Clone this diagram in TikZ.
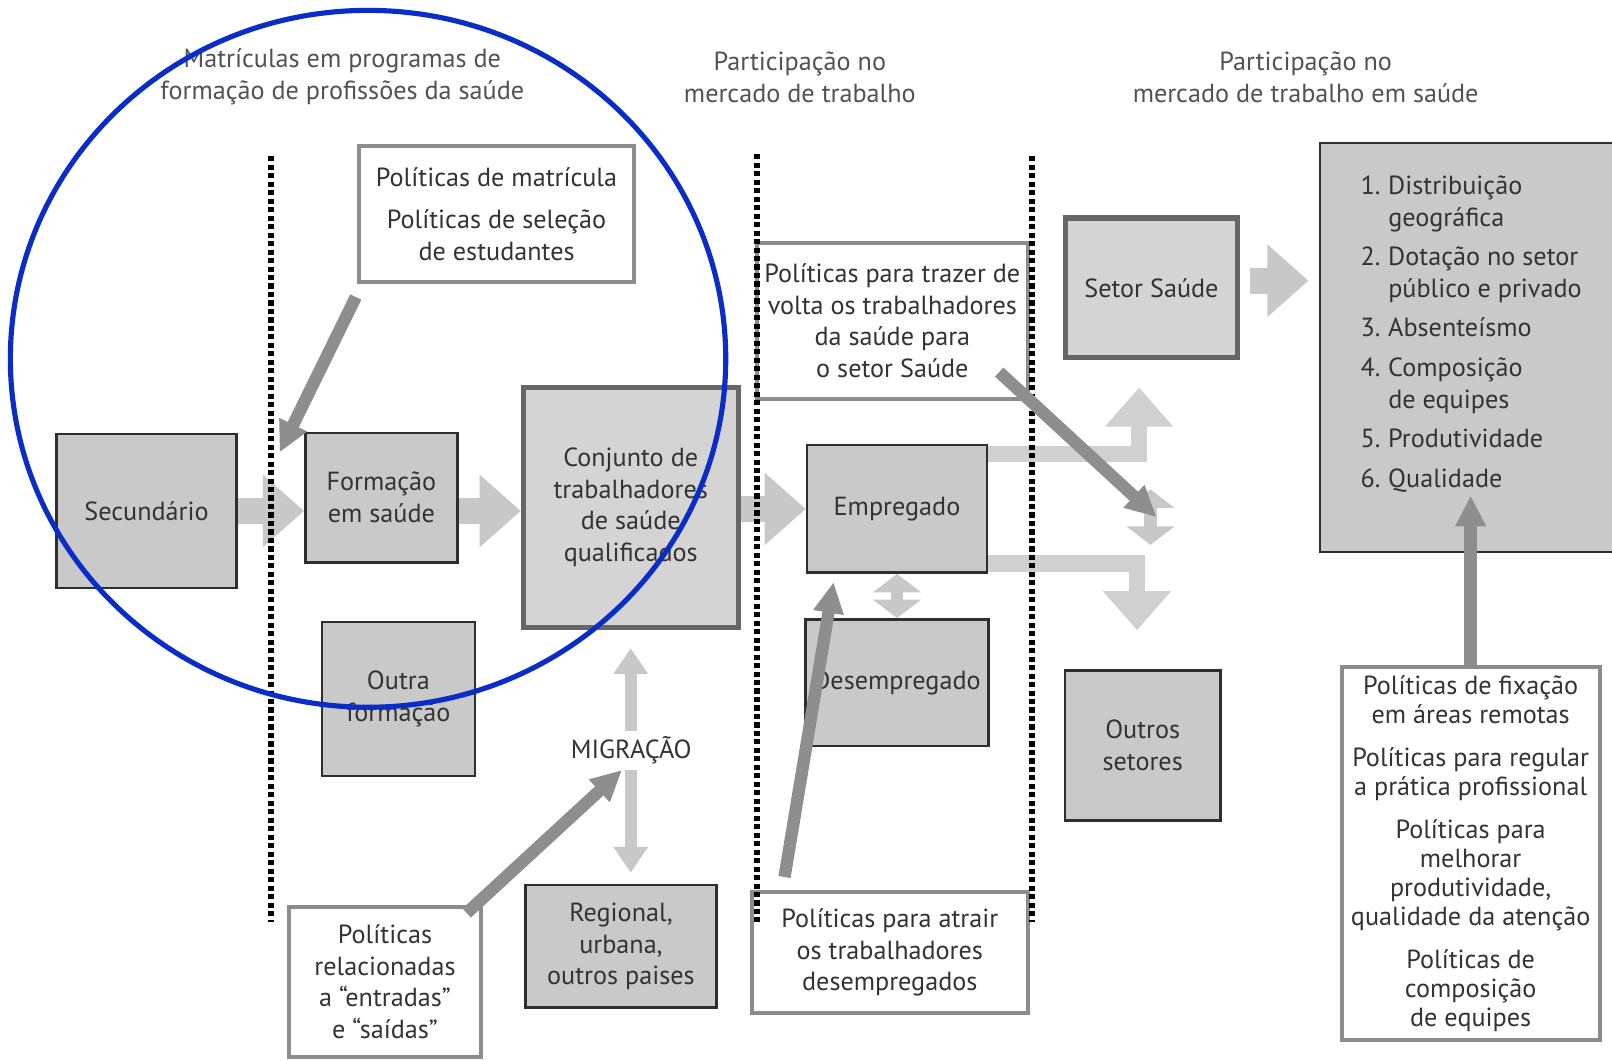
\documentclass[tikz,border=0pt]{standalone}
\usepackage{fontspec}
\setmainfont{PT Sans}
\usetikzlibrary{arrows.meta,positioning}
\definecolor{boxgray}{HTML}{C9C9C9}
\definecolor{palegray}{HTML}{D4D4D4}
\definecolor{edgedark}{HTML}{2E2E2E}
\definecolor{edgemid}{HTML}{666666}
\definecolor{polborder}{HTML}{8C8C8C}
\definecolor{flowgray}{HTML}{C8C8C8}
\definecolor{policyarrow}{HTML}{8E8E8E}
\definecolor{inktext}{HTML}{333333}
\definecolor{markblue}{HTML}{0A2DC8}
\newcommand\diagfont{\fontsize{14.5}{17.6}\selectfont}
\newcommand\tightfont{\fontsize{14.5}{16.2}\selectfont}
\tikzset{
  graybox/.style={draw=edgedark,line width=1.4pt,fill=boxgray,align=center,font=\diagfont,text=inktext,inner sep=2pt},
  thickbox/.style={graybox,draw=edgemid,line width=2.8pt,fill=palegray},
  polbox/.style={draw=polborder,line width=2.2pt,fill=white,align=center,font=\diagfont,text=inktext,inner sep=2pt},
  headtext/.style={align=center,font=\diagfont,text=inktext!85},
  listtext/.style={align=left,font=\diagfont,text=inktext,inner sep=0pt},
  blockarrow/.style={-{Triangle[length=0.8cm,width=1.36cm]},draw=flowgray,line width=0.5cm},
  bendarrow/.style={-{Triangle[length=0.76cm,width=1.28cm]},draw=flowgray!85,line width=0.32cm},
  swaparrow/.style={{Triangle[length=0.36cm,width=0.92cm]}-{Triangle[length=0.36cm,width=0.92cm]},draw=flowgray,line width=0.24cm},
  migarrow/.style={{Triangle[length=0.5cm,width=0.64cm]}-{Triangle[length=0.5cm,width=0.64cm]},draw=flowgray,line width=0.24cm},
  darkarrow/.style={-{Triangle[length=0.6cm,width=0.56cm]},draw=policyarrow,line width=0.24cm},
  dotline/.style={line width=0.115cm,dash pattern=on 0.1cm off 0.065cm},
  markring/.style={draw=markblue,line width=0.1cm},
}

\begin{document}
\begin{tikzpicture}[x=0.02cm,y=-0.02cm]
  \useasboundingbox (0,0) rectangle (1568,1032);
  \fill[white] (0,0) rectangle (1568,1032);

  % column headings
  \node[headtext] (title1) at (333,75) {Matrículas em programas de\\formação de profissões da saúde};
  \node[headtext] (title2) at (778,75) {Participação no\\mercado de trabalho};
  \node[headtext] (title3) at (1270,75) {Participação no\\mercado de trabalho em saúde};

  % stock boxes
  \node[graybox,minimum width=3.5cm,minimum height=3cm] (sec) at (142.5,497) {Secundário};
  \node[graybox,minimum width=2.96cm,minimum height=2.52cm] (form) at (371,484) {Formação\\em saúde};
  \node[thickbox,minimum width=4.18cm,minimum height=4.66cm] (conj) at (613.5,493.5) {Conjunto de\\trabalhadores\\de saúde\\qualificados};
  \node[graybox,minimum width=2.98cm,minimum height=3cm] (outra) at (387.5,680) {Outra\\formação};
  \node[graybox,minimum width=3.72cm,minimum height=2.38cm] (reg) at (604,920.5) {Regional,\\urbana,\\outros paises};
  \node[graybox,minimum width=3.5cm,minimum height=2.48cm] (emp) at (872.5,495) {Empregado};
  \node[graybox,minimum width=3.56cm,minimum height=2.46cm,below=0.86cm of emp] (desemp) {Desempregado};
  \node[thickbox,minimum width=3.36cm,minimum height=2.72cm] (setor) at (1120,280) {Setor Saúde};
  \node[graybox,minimum width=3.02cm,minimum height=2.92cm] (outros) at (1111.5,725) {Outros\\setores};
  \node[graybox,minimum width=6.52cm,minimum height=7.96cm] (result) at (1447,338) {};
  \node[listtext,anchor=north west] (resultlist) at (1323,167) {%
    \begin{tabular}{@{}p{0.54cm}@{}l@{}}
      1. & Distribuição\\
         & geográfica\\[0.15cm]
      2. & Dotação no setor\\
         & público e privado\\[0.15cm]
      3. & Absenteísmo\\[0.15cm]
      4. & Composição\\
         & de equipes\\[0.15cm]
      5. & Produtividade\\[0.15cm]
      6. & Qualidade
    \end{tabular}};

  % policy boxes
  \node[polbox,minimum width=5.36cm,minimum height=2.64cm] (polmat) at (483,208) {Políticas de matrícula\\[0.2cm]Políticas de seleção\\de estudantes};
  \node[polbox,minimum width=3.74cm,minimum height=2.92cm] (polrel) at (374.5,955) {Políticas\\relacionadas\\a “entradas”\\e “saídas”};
  \node[polbox,minimum width=5.28cm,minimum height=3.04cm] (poltraz) at (868,312) {Políticas para trazer de\\volta os trabalhadores\\da saúde para\\o setor Saúde};
  \node[polbox,minimum width=5.38cm,minimum height=2.34cm] (polatr) at (865.5,926.5) {Políticas para atrair\\os trabalhadores\\desempregados};
  \node[polbox,font=\tightfont,minimum width=5.02cm,minimum height=7.26cm] (polfix) at (1430.5,830.5) {Políticas de fixação\\em áreas remotas\\[0.26cm]Políticas para regular\\a prática profissional\\[0.26cm]Políticas para\\melhorar\\produtividade,\\qualidade da atenção\\[0.26cm]Políticas de\\composição\\de equipes};

  % main flows
  \draw[blockarrow] (sec.east) -- (form.west |- sec.east);
  \draw[blockarrow] (form.east |- sec.east) -- (conj.west |- sec.east);
  \draw[blockarrow] (conj.east |- emp.west) -- (emp.west);
  \coordinate (setorout) at ([yshift=0.14cm]setor.east);
  \draw[blockarrow,shorten <=0.18cm,shorten >=0.2cm] (setorout) -- (setorout -| result.west);
  \coordinate (upend) at (1108,377);
  \coordinate (downend) at (1106,613);
  \draw[bendarrow] ([yshift=-0.2cm]emp.north east) -| (upend);
  \draw[bendarrow] ([yshift=0.2cm]emp.south east) -| (downend);
  \draw[swaparrow] (emp.south) -- (desemp.north);
  \coordinate (swaptop) at (1119,476);
  \coordinate (swapbot) at (1119,530);
  \draw[swaparrow] (swaptop) -- (swapbot);
  \draw[migarrow] ([yshift=-0.36cm]conj.south) -- ([yshift=0.22cm]conj.south |- reg.north);
  \node[font=\diagfont,text=inktext,fill=white,inner sep=3pt] (mig) at (614,730) {MIGRAÇÃO};

  % dotted separators
  \draw[dotline] (264,152) -- (264,897);
  \draw[dotline] (736,150) -- (736,897);
  \draw[dotline] (1004,152) -- (1004,897);

  % policy levers
  \coordinate (mattip) at (272,440);
  \coordinate (traztip) at (1125,503);
  \coordinate (fixtip) at (1430.5,482);
  \draw[darkarrow] ([shift={(-1,13)}]polmat.south west) -- (mattip);
  \draw[darkarrow] ([shift={(-16,8)}]polrel.north east) -- ([xshift=-0.18cm]mig.south);
  \draw[darkarrow] ([shift={(-30,-28)}]poltraz.south east) -- (traztip);
  \draw[darkarrow] ([shift={(34,-13)}]polatr.north west) -- ([shift={(27,8)}]emp.south west);
  \draw[darkarrow] (polfix.north) -- (fixtip);

  % highlight
  \draw[markring] (358,349) ellipse [x radius=6.96cm,y radius=6.78cm];
\end{tikzpicture}
\end{document}
